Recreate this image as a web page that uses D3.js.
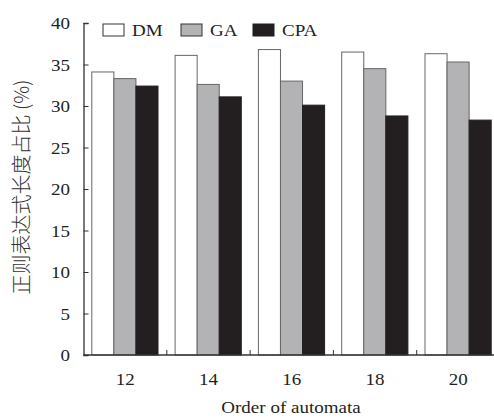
<!DOCTYPE html>
<html>
<head>
<meta charset="utf-8">
<script src="https://cdn.jsdelivr.net/npm/d3@7"></script>
<style>
  body { margin: 0; background: #fff; }
</style>
</head>
<body>
<svg id="chart" width="494" height="419"></svg>
<script>
const orders = ["12", "14", "16", "18", "20"];
const seriesNames = ["DM", "GA", "CPA"];
const dmValues  = [34.1, 36.1, 36.8, 36.5, 36.3];
const gaValues  = [33.3, 32.6, 33.0, 34.5, 35.3];
const cpaValues = [32.4, 31.1, 30.1, 28.8, 28.3];
const yTicks = [0, 5, 10, 15, 20, 25, 30, 35, 40];

const seriesValues = [dmValues, gaValues, cpaValues];
const fills = ["#ffffff", "#b3b3b6", "#231f20"];
const strokes = ["#666666", "#666666", "#231f20"];

const serif = "'Liberation Serif', 'Times New Roman', serif";
const textColor = "#231f20";
const fontSize = "17px";
const stretch = 1.12; // source figure is a bit wider than tall

const svg = d3.select("#chart");
const plotLeft = 83.5, plotRight = 500, plotTop = 23, plotBottom = 355;

const x = d3.scaleBand().domain(orders).range([plotLeft, plotRight]).paddingInner(0).paddingOuter(0);
const x1 = d3.scaleBand().domain(seriesNames).range([8.3, x.bandwidth() - 8.8]);
const y = d3.scaleLinear().domain([0, 40]).range([plotBottom, plotTop]);

function label(parent, tx, ty, txt, anchor) {
  return parent.append("text")
    .attr("transform", `translate(${tx},${ty}) scale(${stretch},1)`)
    .attr("text-anchor", anchor || "start")
    .style("font-family", serif)
    .style("font-size", fontSize)
    .attr("fill", textColor)
    .text(txt);
}

// bars
orders.forEach((o, i) => {
  const g = svg.append("g").attr("transform", `translate(${x(o)},0)`);
  seriesNames.forEach((s, j) => {
    const v = seriesValues[j][i];
    g.append("rect")
      .attr("x", x1(s))
      .attr("y", y(v))
      .attr("width", x1.bandwidth())
      .attr("height", y(0) - y(v))
      .attr("fill", fills[j])
      .attr("stroke", strokes[j])
      .attr("stroke-width", 1);
  });
});

// y axis
const yAxis = svg.append("g")
  .attr("transform", `translate(${plotLeft},0)`)
  .call(d3.axisLeft(y).tickValues(yTicks).tickSize(-5).tickFormat(""));
yAxis.select(".domain").attr("stroke", "#333").attr("stroke-width", 1.3);
yAxis.selectAll(".tick line").attr("stroke", "#333");
yTicks.forEach(t => label(svg, 70, y(t) + 6, String(t), "end"));

// x axis: ticks sit between groups
const xAxisG = svg.append("g").attr("transform", `translate(0,${plotBottom})`);
xAxisG.append("line")
  .attr("x1", plotLeft).attr("x2", plotRight)
  .attr("stroke", "#333").attr("stroke-width", 1.3);
orders.slice(1).forEach(o => {
  xAxisG.append("line")
    .attr("x1", x(o)).attr("x2", x(o))
    .attr("y1", 0).attr("y2", -5)
    .attr("stroke", "#333");
});
orders.forEach(o => label(xAxisG, x(o) + x.bandwidth() / 2, 30, o, "middle"));

// axis titles
label(svg, 291, 413, "Order of automata", "middle");

svg.append("text")
  .attr("transform", "translate(29,187) rotate(-90)")
  .attr("text-anchor", "middle")
  .style("font-size", "20px")
  .style("font-family", "'Noto Sans CJK SC', sans-serif")
  .style("font-weight", "300")
  .attr("fill", "#333")
  .text("正则表达式长度占比 (%)");

// legend
const legendX = [103, 181, 253];
seriesNames.forEach((s, j) => {
  const lg = svg.append("g").attr("transform", `translate(${legendX[j]},24)`);
  lg.append("rect")
    .attr("width", 21).attr("height", 12)
    .attr("fill", fills[j])
    .attr("stroke", j === 2 ? fills[j] : "#333")
    .attr("stroke-width", 1);
  label(lg, 29, 12, s);
});
</script>
</body>
</html>
